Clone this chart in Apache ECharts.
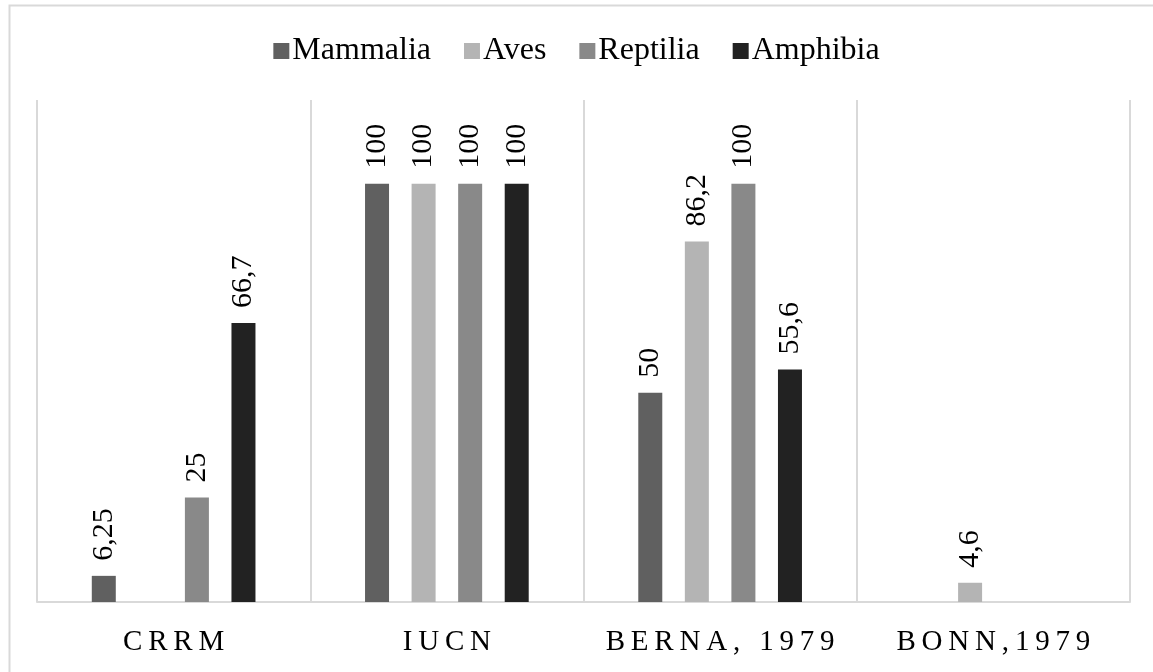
<!DOCTYPE html>
<html>
<head>
<meta charset="utf-8">
<script src="https://cdn.jsdelivr.net/npm/echarts@6/dist/echarts.min.js"></script>
<style>
  html, body { margin: 0; padding: 0; background: #fff; }
  #chart { width: 1153px; height: 672px; }
</style>
</head>
<body>
<div id="chart"></div>
<script>
const categories = ['CRRM', 'IUCN', 'BERNA, 1979', 'BONN,1979']
const seriesNames = ['Mammalia', 'Aves', 'Reptilia', 'Amphibia']
const mammalia = [6.25, 100, 50, null]
const aves = [null, 100, 86.2, 4.6]
const reptilia = [25, 100, 100, null]
const amphibia = [66.7, 100, 55.6, null]
const colors = ['#606060', '#b4b4b4', '#898989', '#222222']

const FONT = "'Liberation Serif', 'Times New Roman', serif"
const GRID = '#d9d9d9'

// decimal comma like the source
const fmt = p => String(p.value).replace('.', ',')

const chart = echarts.init(document.getElementById('chart'))
chart.setOption({
  animation: false,
  color: colors,
  textStyle: { fontFamily: FONT, color: '#000' },
  graphic: [{
    type: 'rect', left: 7, top: 3, silent: true,
    shape: { width: 1200, height: 720 },
    style: { fill: 'none', stroke: GRID, lineWidth: 2 }
  }],
  legend: {
    top: 30, left: 'center',
    icon: 'rect', itemWidth: 16, itemHeight: 16, itemGap: 33,
    textStyle: { fontFamily: FONT, fontSize: 32, color: '#000', padding: [0, 0, 0, -2] },
    data: seriesNames
  },
  grid: { left: 37, right: 23, top: 100, bottom: 70 },
  xAxis: {
    type: 'category', data: categories,
    axisLine: { lineStyle: { color: GRID, width: 2 } },
    axisTick: { show: false },
    splitLine: { show: true, interval: 0, lineStyle: { color: GRID, width: 2 } },
    axisLabel: {
      interval: 0, margin: 26, fontFamily: FONT, fontSize: 29, color: '#000',
      formatter: v => v.split('').join('\u2009')
    }
  },
  yAxis: { type: 'value', min: 0, max: 120, show: false, splitLine: { show: false } },
  series: [mammalia, aves, reptilia, amphibia].map((d, i) => ({
    name: seriesNames[i], type: 'bar', data: d,
    barWidth: 24, barGap: '94%',
    label: {
      show: true, position: 'top', rotate: 90, align: 'left', verticalAlign: 'middle',
      distance: 15, fontFamily: FONT, fontSize: 30, color: '#000', formatter: fmt
    }
  }))
})
</script>
</body>
</html>
